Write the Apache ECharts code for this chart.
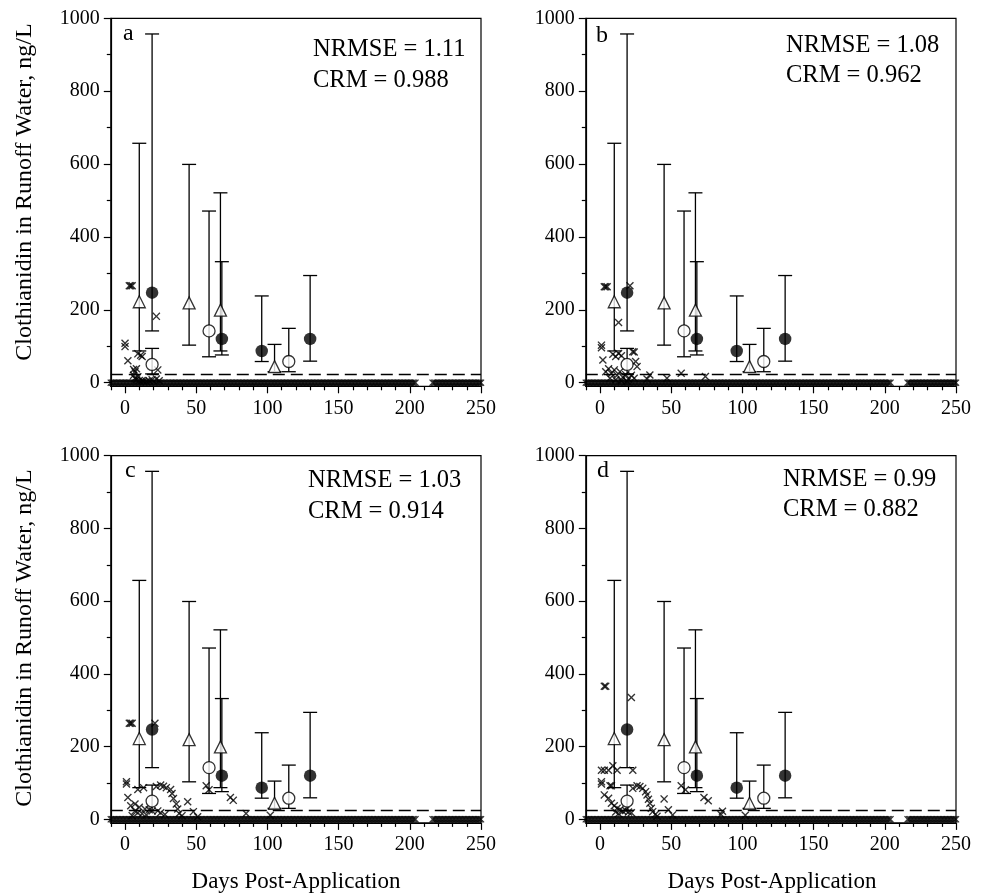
<!DOCTYPE html>
<html>
<head>
<meta charset="utf-8">
<script src="https://cdn.jsdelivr.net/npm/echarts@6/dist/echarts.min.js"></script>
<style>html,body{margin:0;padding:0;background:#fff;}#chart{width:986px;height:896px;}</style>
</head>
<body>
<div id="chart"></div>
<script>
// ---------------- DATA ----------------
const panelLetters = ['a', 'b', 'c', 'd'];
const nrmseValues = ['1.11', '1.08', '1.03', '0.99'];
const crmValues = ['0.988', '0.962', '0.914', '0.882'];
const yTitle = 'Clothianidin in Runoff Water, ng/L';
const xTitle = 'Days Post-Application';

const xMajorTicks = [0, 50, 100, 150, 200, 250];
const xMinorTicks = [-10, 10, 20, 30, 40, 60, 70, 80, 90, 110, 120, 130, 140, 160, 170, 180, 190, 210, 220, 230, 240];
const yMajorTicks = [0, 200, 400, 600, 800, 1000];
const yMinorTicks = [100, 300, 500, 700, 900];

const loq = 24; // dashed reference line, ng/L

// Observations (same in every panel): day, mean, lower, upper
const obsFilledDays = [19, 68, 96, 130];
const obsFilledMean = [247, 120, 87, 120];
const obsFilledLow = [142, 76, 58, 59];
const obsFilledHigh = [957, 332, 238, 294];

const obsOpenDays = [19, 59, 115];
const obsOpenMean = [50, 142, 58];
const obsOpenLow = [24, 71, 30];
const obsOpenHigh = [94, 471, 149];

const obsTriDays = [10, 45, 67, 105];
const obsTriMean = [222, 219, 199, 44];
const obsTriLow = [87, 103, 87, 30];
const obsTriHigh = [657, 599, 521, 105];

// Simulated daily values that sit on zero (all panels)
const simZeroDays = [
 -10,-9,-8,-7,-6,-5,-4,-3,-2,-1,0,1,2,3,4,5,6,7,8,9,10,11,12,13,14,15,16,17,18,19,
 20,21,22,23,24,25,26,27,28,29,30,31,32,33,34,35,36,37,38,39,40,41,42,43,44,45,46,47,48,49,
 50,51,52,53,54,55,56,57,58,59,60,61,62,63,64,65,66,67,68,69,70,71,72,73,74,75,76,77,78,79,
 80,81,82,83,84,85,86,87,88,89,90,91,92,93,94,95,96,97,98,99,100,101,102,103,104,105,106,107,108,109,
 110,111,112,113,114,115,116,117,118,119,120,121,122,123,124,125,126,127,128,129,130,131,132,133,134,135,136,137,138,139,
 140,141,142,143,144,145,146,147,148,149,150,151,152,153,154,155,156,157,158,159,160,161,162,163,164,165,166,167,168,169,
 170,171,172,173,174,175,176,177,178,179,180,181,182,183,184,185,186,187,188,189,190,191,192,193,194,195,196,197,198,199,
 200,201,202,203,204,
 216,217,218,219,220,221,222,223,224,225,226,227,228,229,230,231,232,233,234,235,236,237,238,239,
 240,241,242,243,244,245,246,247,248,249,250
];

// Simulated non-zero values per panel: [day, ng/L]
const simA = [[0,108],[0,99],[2,60],[3,266],[4,266],[5,266],[6,36],[7,30],[8,38],[9,79],[11,75],[12,72],
  [6,20],[7,12],[8,8],[9,16],[10,6],[12,6],[13,4],[15,3],[17,5],[19,8],[22,182],[23,35],[22,10],[24,5]];
const simB = [[1,103],[1,96],[2,62],[3,263],[4,263],[5,263],[13,165],[9,78],[11,72],[13,80],[15,74],[21,266],
  [23,85],[24,84],[25,58],[26,44],[4,30],[6,38],[8,25],[10,35],[12,20],[14,30],[16,15],[18,22],[20,10],
  [7,12],[11,8],[15,5],[19,4],[22,20],[24,12],[35,21],[33,10],[47,12],[57,26],[74,17]];
const simC = [[1,103],[1,97],[2,60],[3,264],[4,264],[5,264],[21,264],[9,82],[13,87],
  [22,90],[25,94],[27,91],[29,87],[32,82],[33,71],[34,57],[36,42],[37,28],[38,16],[40,10],
  [4,37],[7,42],[10,33],[14,28],[17,26],[19,23],[23,23],[25,18],[28,13],[7,23],[9,18],[12,15],[15,12],[5,10],
  [44,48],[48,21],[51,7],[57,92],[59,81],[74,60],[76,52],[85,16],[102,11]];
const simD = [[3,366],[4,366],[22,335],[1,135],[3,135],[6,135],[9,147],[12,135],[23,135],[1,103],[1,97],
  [7,92],[8,92],[3,67],[6,58],[8,44],[10,37],[12,30],[14,26],[16,22],[18,24],[20,20],[22,18],[11,20],[13,15],
  [23,85],[26,92],[28,90],[30,85],[32,76],[33,67],[34,55],[35,44],[36,30],[37,21],[39,14],[40,8],
  [45,56],[48,26],[51,12],[57,92],[60,81],[73,60],[76,51],[86,22],[85,13],[102,11]];
const simPanels = [simA, simB, simC, simD];

// ---------------- LAYOUT ----------------
const FONT = '"Liberation Serif", "Times New Roman", Times, serif';
const grids = [
  {left: 110.8, top: 18.3, width: 370.2, height: 368.0},
  {left: 585.8, top: 18.3, width: 370.2, height: 368.0},
  {left: 110.8, top: 455.7, width: 370.2, height: 367.2},
  {left: 585.8, top: 455.7, width: 370.2, height: 367.2}
];
const letterPos = [[123, 34], [596, 36], [125, 471], [597, 471]];
const statPos = [[313, 50], [786, 45.5], [308, 481], [783, 479.5]];
const statGap = 30.5;

const xMarkPath = 'path://M0,1.2L1.2,0L5,3.8L8.8,0L10,1.2L6.2,5L10,8.8L8.8,10L5,6.2L1.2,10L0,8.8L3.8,5Z';
const plainNum = v => String(v);

function errData(days, lo, hi) { return days.map((d, i) => [d, lo[i], hi[i]]); }
function ptData(days, v) { return days.map((d, i) => [d, v[i]]); }

function renderErr(params, api) {
  const x = api.value(0), lo = api.value(1), hi = api.value(2);
  const a = api.coord([x, lo]), b = api.coord([x, hi]);
  const w = 7;
  const st = {stroke: '#000', lineWidth: 1.3};
  return {type: 'group', children: [
    {type: 'line', shape: {x1: a[0], y1: a[1], x2: b[0], y2: b[1]}, style: st},
    {type: 'line', shape: {x1: b[0] - w, y1: b[1], x2: b[0] + w, y2: b[1]}, style: st},
    {type: 'line', shape: {x1: a[0] - w, y1: a[1], x2: a[0] + w, y2: a[1]}, style: st}
  ]};
}

const option = {
  animation: false,
  backgroundColor: '#fff',
  grid: grids.map(g => Object.assign({show: true, borderColor: '#000', borderWidth: 1.2, containLabel: false}, g)),
  xAxis: [], yAxis: [], series: [], graphic: []
};

grids.forEach((g, i) => {
  option.xAxis.push({
    gridIndex: i, type: 'value', min: -10, max: 250, position: 'bottom',
    axisLine: {show: true, onZero: false, lineStyle: {color: '#000', width: 1.2}},
    axisTick: {show: true, customValues: xMajorTicks, length: 7, lineStyle: {color: '#000', width: 1.2}},
    axisLabel: {show: true, customValues: xMajorTicks, formatter: plainNum, color: '#000', fontFamily: FONT, fontSize: 20, margin: 12},
    splitLine: {show: false}
  });
  option.xAxis.push({
    gridIndex: i, type: 'value', min: -10, max: 250, position: 'bottom',
    axisLine: {show: false, onZero: false},
    axisTick: {show: true, customValues: xMinorTicks, length: 4, lineStyle: {color: '#000', width: 1.2}},
    axisLabel: {show: false}, splitLine: {show: false}
  });
  option.yAxis.push({
    gridIndex: i, type: 'value', min: -10, max: 1000, position: 'left',
    axisLine: {show: true, onZero: false, lineStyle: {color: '#000', width: 1.2}},
    axisTick: {show: true, customValues: yMajorTicks, length: 7, lineStyle: {color: '#000', width: 1.2}},
    axisLabel: {show: true, customValues: yMajorTicks, formatter: plainNum, color: '#000', fontFamily: FONT, fontSize: 20, margin: 11},
    splitLine: {show: false}
  });
  option.yAxis.push({
    gridIndex: i, type: 'value', min: -10, max: 1000, position: 'left',
    axisLine: {show: false, onZero: false},
    axisTick: {show: true, customValues: yMinorTicks, length: 4, lineStyle: {color: '#000', width: 1.2}},
    axisLabel: {show: false}, splitLine: {show: false}
  });
  const xi = 2 * i, yi = 2 * i;
  // simulated zeros + LOQ line
  option.series.push({
    type: 'scatter', xAxisIndex: xi, yAxisIndex: yi, clip: false, z: 2,
    symbol: xMarkPath, symbolSize: 7, itemStyle: {color: '#000'},
    data: simZeroDays.map(d => [d, 0]),
    markLine: {silent: true, symbol: 'none', label: {show: false},
      lineStyle: {color: '#000', type: [12, 6], width: 1.3},
      data: [{yAxis: loq}]}
  });
  option.series.push({
    type: 'scatter', xAxisIndex: xi, yAxisIndex: yi, clip: false, z: 2,
    symbol: xMarkPath, symbolSize: 8, itemStyle: {color: '#000'},
    data: simPanels[i]
  });
  // error bars
  [errData(obsTriDays, obsTriLow, obsTriHigh), errData(obsOpenDays, obsOpenLow, obsOpenHigh),
   errData(obsFilledDays, obsFilledLow, obsFilledHigh)].forEach(d => {
    option.series.push({type: 'custom', xAxisIndex: xi, yAxisIndex: yi, renderItem: renderErr,
      encode: {x: 0, y: [1, 2]}, data: d, z: 3, clip: false});
  });
  option.series.push({type: 'scatter', xAxisIndex: xi, yAxisIndex: yi, z: 4, symbol: 'triangle', symbolSize: [12, 12],
    itemStyle: {color: '#fff', borderColor: '#000', borderWidth: 1.3}, data: ptData(obsTriDays, obsTriMean)});
  option.series.push({type: 'scatter', xAxisIndex: xi, yAxisIndex: yi, z: 4, symbol: 'circle', symbolSize: 12,
    itemStyle: {color: '#fff', borderColor: '#000', borderWidth: 1.3}, data: ptData(obsOpenDays, obsOpenMean)});
  option.series.push({type: 'scatter', xAxisIndex: xi, yAxisIndex: yi, z: 4, symbol: 'circle', symbolSize: 12.5,
    itemStyle: {color: '#000'}, data: ptData(obsFilledDays, obsFilledMean)});

  // texts
  option.graphic.push({type: 'text', x: letterPos[i][0], y: letterPos[i][1], z: 10,
    style: {text: panelLetters[i], font: '24px ' + FONT, fill: '#000', textAlign: 'left', textVerticalAlign: 'middle'}});
  option.graphic.push({type: 'text', x: statPos[i][0], y: statPos[i][1], z: 10,
    style: {text: 'NRMSE = ' + nrmseValues[i], font: '24.5px ' + FONT, fill: '#000', textAlign: 'left', textVerticalAlign: 'middle'}});
  option.graphic.push({type: 'text', x: statPos[i][0], y: statPos[i][1] + statGap, z: 10,
    style: {text: 'CRM = ' + crmValues[i], font: '24.5px ' + FONT, fill: '#000', textAlign: 'left', textVerticalAlign: 'middle'}});
});

// axis titles
option.graphic.push({type: 'text', x: 25, y: 192, rotation: Math.PI / 2,
  style: {text: yTitle, font: '24px ' + FONT, fill: '#000', textAlign: 'center', textVerticalAlign: 'middle'}});
option.graphic.push({type: 'text', x: 25, y: 638, rotation: Math.PI / 2,
  style: {text: yTitle, font: '24px ' + FONT, fill: '#000', textAlign: 'center', textVerticalAlign: 'middle'}});
option.graphic.push({type: 'text', x: 296, y: 882,
  style: {text: xTitle, font: '23px ' + FONT, fill: '#000', textAlign: 'center', textVerticalAlign: 'middle'}});
option.graphic.push({type: 'text', x: 772, y: 882,
  style: {text: xTitle, font: '23px ' + FONT, fill: '#000', textAlign: 'center', textVerticalAlign: 'middle'}});

const chart = echarts.init(document.getElementById('chart'), null, {renderer: 'canvas'});
chart.setOption(option);
</script>
</body>
</html>
